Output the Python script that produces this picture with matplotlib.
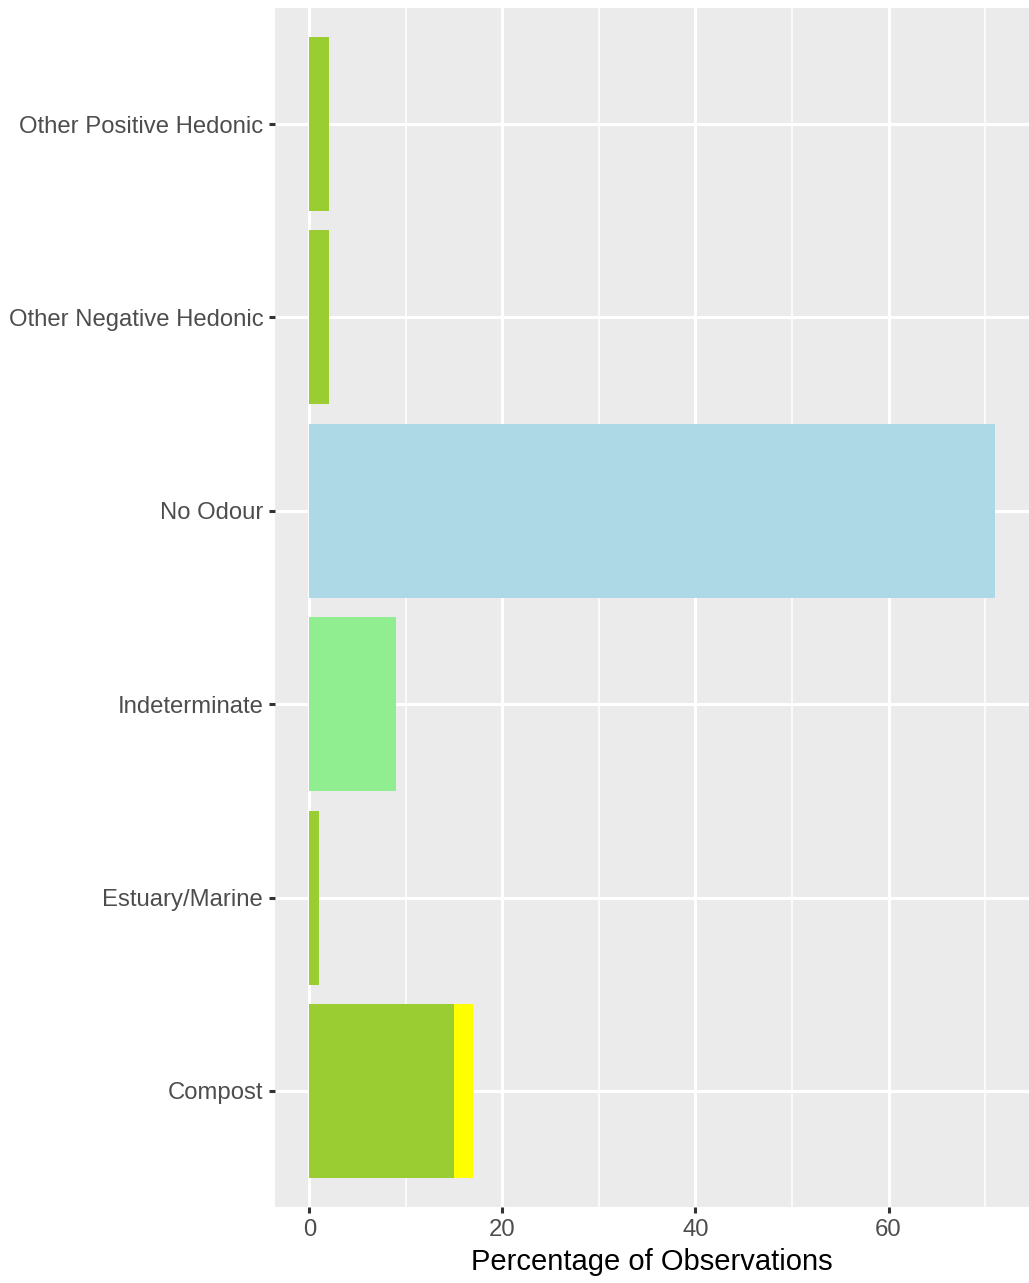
import matplotlib.pyplot as plt
import numpy as np

# odour categories, bottom to top
categories = ['Compost', 'Estuary/Marine', 'Indeterminate', 'No Odour',
              'Other Negative Hedonic', 'Other Positive Hedonic']
main_pct = [15, 1, 9, 71, 2, 2]
main_group = ['odour', 'odour', 'indeterminate', 'none', 'odour', 'odour']
extra_pct = [2, 0, 0, 0, 0, 0]

fills = {'odour': '#9ACD32', 'indeterminate': '#90EE90',
         'none': '#ADD8E6', 'extra': '#FFFF00'}

plt.rcParams['font.family'] = ['Liberation Sans', 'DejaVu Sans']

fig = plt.figure(figsize=(10.29, 12.83), dpi=100)
ax = fig.add_axes([275 / 1029, 1 - 1207 / 1283, 754 / 1029, 1199 / 1283])
ax.set_facecolor('#EBEBEB')

y = np.arange(len(categories))
main = np.array(main_pct, dtype=float)
ax.barh(y, main, height=0.9, color=[fills[g] for g in main_group], zorder=3)
ax.barh(y, extra_pct, left=main, height=0.9, color=fills['extra'], zorder=3)

top = max(m + e for m, e in zip(main_pct, extra_pct))
ax.set_xlim(-0.05 * top, 1.05 * top)
ax.set_ylim(-0.6, len(categories) - 0.4)

ax.set_xticks([0, 20, 40, 60])
ax.set_xticks([10, 30, 50, 70], minor=True)
ax.set_yticks(y)
ax.set_yticklabels(categories)
ax.grid(True, which='major', color='white', linewidth=2.2, zorder=1)
ax.grid(True, which='minor', axis='x', color='white', linewidth=1.1, zorder=1)
for s in ax.spines.values():
    s.set_visible(False)
ax.tick_params(which='major', length=4.5, width=2.2, color='#333333',
               labelcolor='#4D4D4D', labelsize=17.2, pad=4)
ax.tick_params(which='minor', length=0)
ax.set_xlabel('Percentage of Observations', fontsize=21, color='black', labelpad=5)

fig.savefig('out.png', dpi=100)
